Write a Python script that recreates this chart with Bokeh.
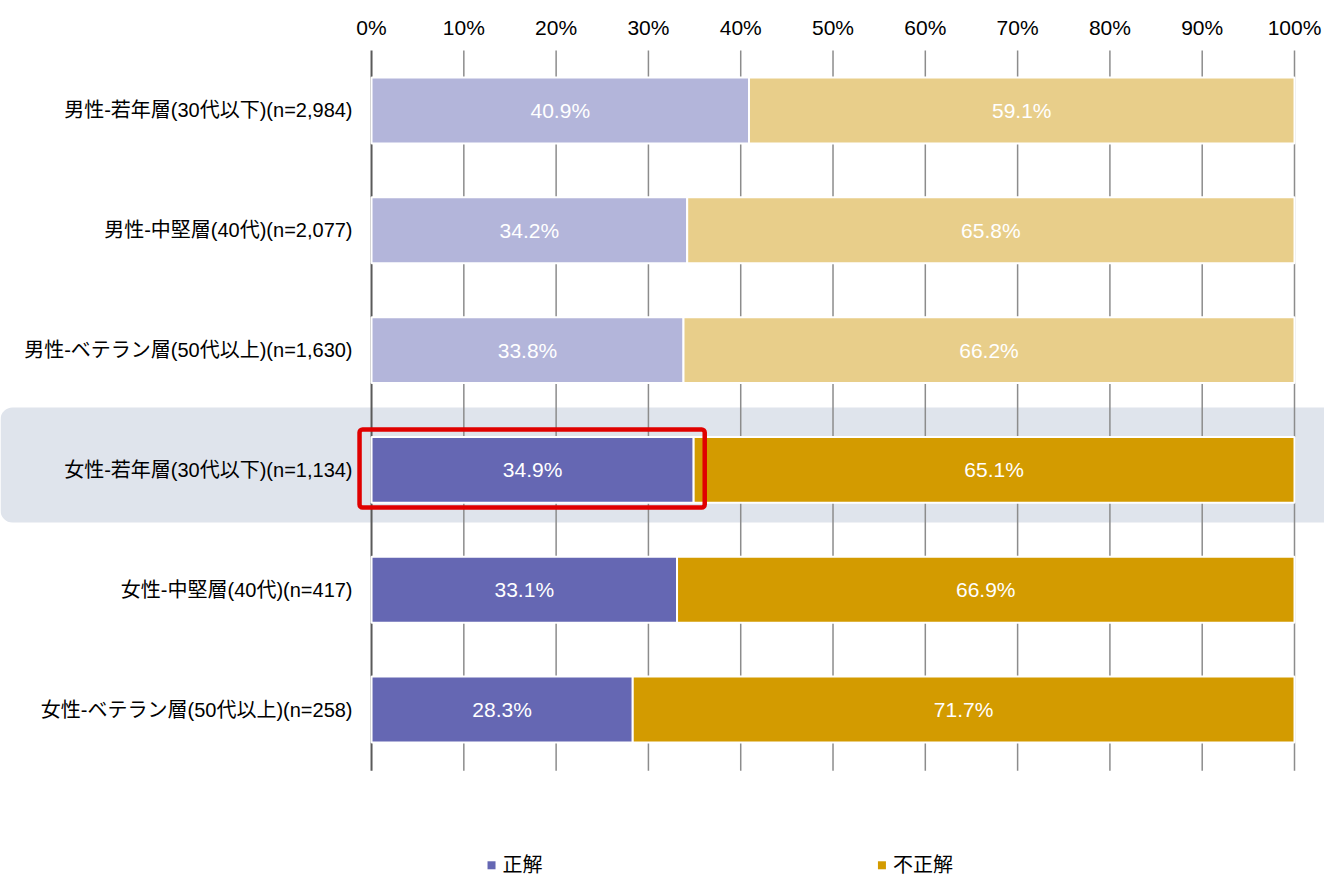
from bokeh.plotting import figure
from bokeh.models import Range1d, BoxAnnotation, ColumnDataSource
from bokeh.core.properties import value
from bokeh.embed import file_html
from bokeh.resources import INLINE

# Survey results: share of correct / incorrect answers by group
groups = [
    "男性-若年層(30代以下)(n=2,984)",
    "男性-中堅層(40代)(n=2,077)",
    "男性-ベテラン層(50代以上)(n=1,630)",
    "女性-若年層(30代以下)(n=1,134)",
    "女性-中堅層(40代)(n=417)",
    "女性-ベテラン層(50代以上)(n=258)",
]
correct = [40.9, 34.2, 33.8, 34.9, 33.1, 28.3]
incorrect = [59.1, 65.8, 66.2, 65.1, 66.9, 71.7]
ticks = [0, 10, 20, 30, 40, 50, 60, 70, 80, 90, 100]
tick_labels = ["0%", "10%", "20%", "30%", "40%", "50%", "60%", "70%", "80%", "90%", "100%"]
series_names = ["正解", "不正解"]

# men rows are muted, women rows in full colour
correct_colors = ["#b3b5da"] * 3 + ["#6567b3"] * 3
incorrect_colors = ["#e8ce8a"] * 3 + ["#d39b00"] * 3
legend_colors = ["#6567b3", "#d39b00"]

FONT = value("Liberation Sans, Noto Sans CJK JP")
FS = "21px"

p = figure(width=1324, height=877, output_backend="svg", toolbar_location=None,
           x_range=Range1d(-40.2, 103.25), y_range=Range1d(6.402, -0.918),
           x_axis_location=None, y_axis_location=None,
           min_border=0, outline_line_color=None, background_fill_color="white",
           border_fill_color="white")
p.grid.visible = False

rows = list(range(len(groups)))

# highlighted row band
p.add_layout(BoxAnnotation(left=-40.2, right=110, top=2.479, bottom=3.439,
                           fill_color="#dfe4ec", fill_alpha=1, line_color=None,
                           border_radius=12, level="underlay"))

# vertical gridlines
grid_colors = ["#5a5a5a"] + ["#8c8c8c"] * (len(ticks) - 1)
grid_widths = [2] + [1.5] * (len(ticks) - 1)
p.segment(x0=ticks, x1=ticks, y0=[-0.5] * len(ticks), y1=[5.51] * len(ticks),
          line_color=grid_colors, line_width=grid_widths)

ends = [c + i for c, i in zip(correct, incorrect)]
src = ColumnDataSource(dict(y=rows, c=correct, e=ends, cc=correct_colors, ic=incorrect_colors,
                            cmid=[c / 2 for c in correct],
                            imid=[c + i / 2 for c, i in zip(correct, incorrect)],
                            ctxt=[f"{c:.1f}%" for c in correct],
                            itxt=[f"{i:.1f}%" for i in incorrect],
                            grp=groups))

p.hbar(y="y", left=0, right="c", height=0.55, fill_color="cc", line_color="white",
       line_width=2, source=src)
p.hbar(y="y", left="c", right="e", height=0.55, fill_color="ic", line_color="white",
       line_width=2, source=src)

# value labels inside bars
for xcol, tcol in (("cmid", "ctxt"), ("imid", "itxt")):
    p.text(x=xcol, y="y", text=tcol, source=src, text_color="white",
           text_align="center", text_baseline="middle",
           text_font=FONT, text_font_size=FS)

# category labels
p.text(x=0, y="y", text="grp", source=src, x_offset=-19, text_color="black",
       text_align="right", text_baseline="middle", text_font=FONT, text_font_size="20px")

# percentage scale along the top
p.text(x=ticks, y=[-0.69] * len(ticks), text=tick_labels, text_color="black",
       text_align="center", text_baseline="middle", text_font=FONT, text_font_size=FS)

# emphasis frame around the highlighted bar
p.add_layout(BoxAnnotation(left=-1.3, right=36.1, top=2.663, bottom=3.314,
                           fill_alpha=0, line_color="#e00000", line_alpha=1,
                           line_width=4.5, border_radius=3, level="overlay"))

# legend
leg_x = [13.0, 55.3]
leg_y = [6.30, 6.30]
p.scatter(x=leg_x, y=leg_y, marker="square", size=8,
          fill_color=legend_colors, line_color=None)
p.text(x=leg_x, y=leg_y, text=series_names, x_offset=11, text_color="black",
       text_align="left", text_baseline="middle", text_font=FONT, text_font_size="20px")

open("out.html", "w").write(file_html(p, INLINE))
